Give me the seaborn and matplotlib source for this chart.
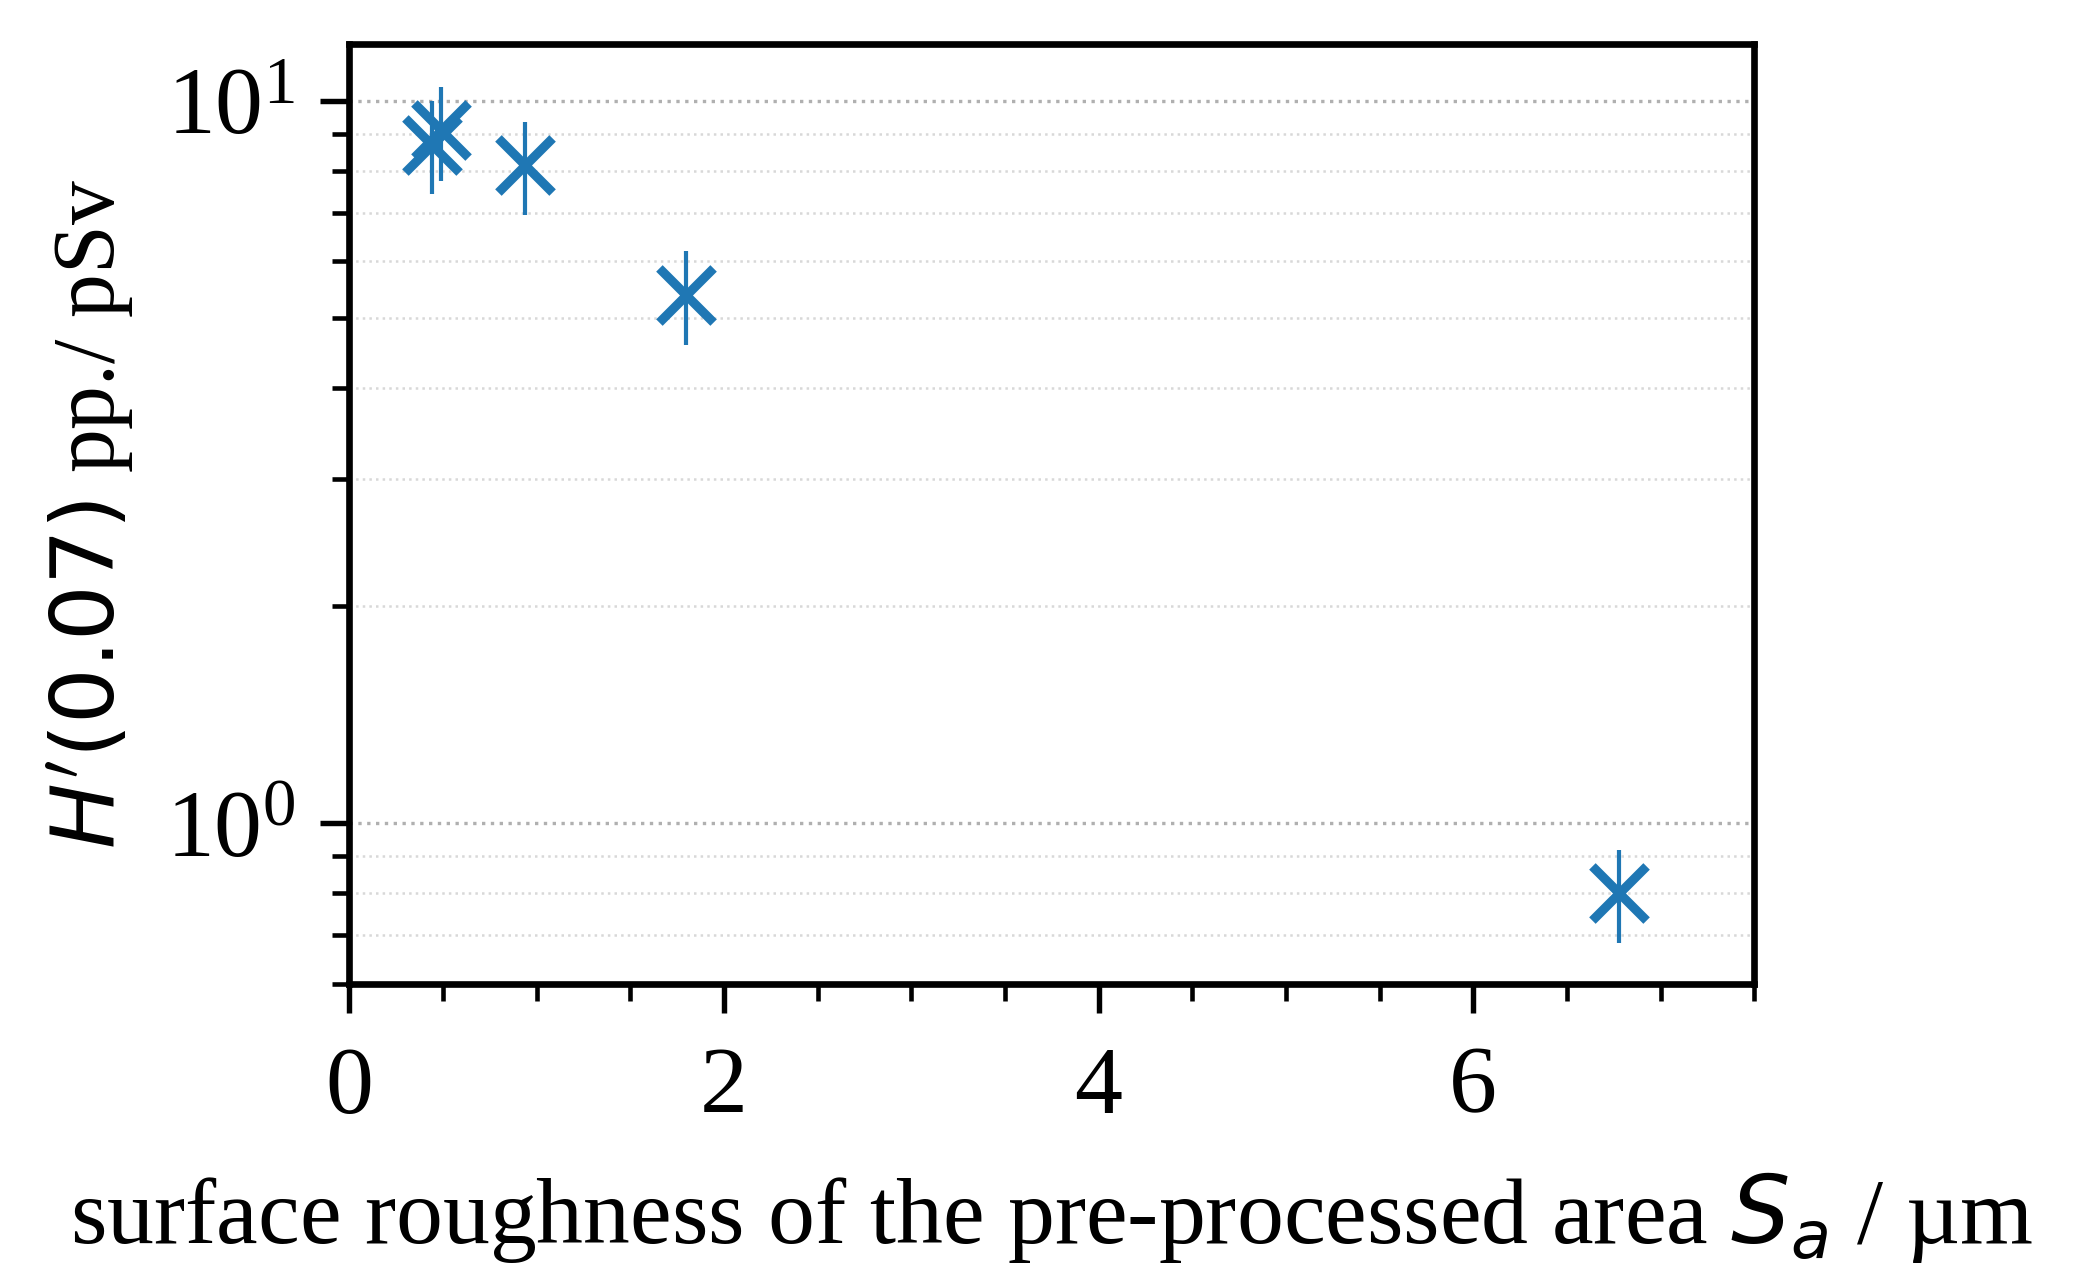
import numpy as np
import pandas as pd
import matplotlib
matplotlib.use("Agg")
import matplotlib.pyplot as plt
import matplotlib.ticker as mticker
import seaborn as sns

# ---- data ----
roughness = [0.44, 0.49, 0.94, 1.80, 6.78]          # S_a / µm
h_value = [8.70, 9.10, 8.15, 5.39, 0.80]             # H'(0.07) pp./pSv
h_error = [1.28, 1.35, 1.20, 0.80, 0.118]

x_ticks = [0, 2, 4, 6]
x_label = r"surface roughness of the pre-processed area $S_a$ / µm"
y_label = r"$H'(0.07)$ pp./ pSv"

df = pd.DataFrame({"Sa": roughness, "H": h_value, "err": h_error})

sns.set_theme(style="ticks")
plt.rcParams["font.family"] = ["Liberation Serif", "DejaVu Serif"]
plt.rcParams["mathtext.fontset"] = "dejavusans"
plt.rcParams["text.color"] = "black"
plt.rcParams["axes.labelcolor"] = "black"
plt.rcParams["xtick.color"] = "black"
plt.rcParams["ytick.color"] = "black"

color = "#1f77b4"

fig = plt.figure(figsize=(2091 / 300, 1284 / 300), dpi=300)
ax = fig.add_axes([0.167, 0.234, 0.672, 0.732])

ax.errorbar(df["Sa"], df["H"], yerr=df["err"], fmt="none", ecolor=color,
            elinewidth=1.0, capsize=0, zorder=3)
sns.scatterplot(data=df, x="Sa", y="H", marker="x", s=13 ** 2, color=color,
                linewidth=2.2, ax=ax, zorder=4)

ax.set_yscale("log")
ax.set_xlim(0, 7.5)
ax.set_ylim(0.6, 12)
ax.set_xticks(x_ticks)
ax.xaxis.set_minor_locator(mticker.MultipleLocator(0.5))
ax.yaxis.set_minor_locator(mticker.LogLocator(base=10, subs=np.arange(2, 10)))
ax.yaxis.set_minor_formatter(mticker.NullFormatter())

ax.grid(True, which="major", axis="y", linestyle=":", color="#b0b0b0", linewidth=0.8)
ax.grid(True, which="minor", axis="y", linestyle=":", color="#d8d8d8", linewidth=0.6)
ax.grid(False, axis="x")

for sp in ax.spines.values():
    sp.set_linewidth(1.6)
    sp.set_color("black")

ax.tick_params(which="major", length=7, width=1.3, labelsize=23, color="black",
               labelcolor="black")
ax.tick_params(axis="x", which="major", pad=8)
ax.tick_params(axis="y", which="major", pad=6)
ax.tick_params(which="minor", length=4, width=1.1, color="black")

ax.set_xlabel(x_label, fontsize=22.5, labelpad=9, color="black")
ax.set_ylabel(y_label, fontsize=21, labelpad=7, color="black")

fig.savefig("out.png", dpi=300)
